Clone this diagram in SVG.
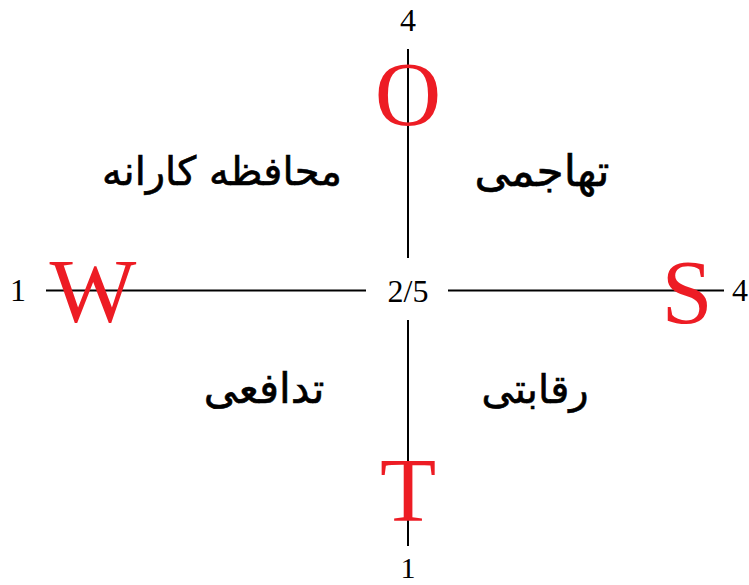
<svg xmlns="http://www.w3.org/2000/svg" width="749" height="585" viewBox="0 0 749 585">
<style>
.ax{stroke:#000;stroke-width:2;fill:none}
.num{font-family:"Liberation Serif",serif;font-size:32px;fill:#000;text-anchor:middle}
.big{font-family:"Liberation Serif",serif;font-size:92px;fill:#ed1c24;text-anchor:middle}
.fa{font-family:"DejaVu Sans",sans-serif;font-size:40px;fill:#000;stroke:#000;stroke-width:0.6;text-anchor:middle;direction:rtl}
</style>
<rect width="749" height="585" fill="#fff"/>
<g id="connectors">
<line class="ax" x1="408" y1="49" x2="408" y2="258"/>
<line class="ax" x1="408" y1="320" x2="408" y2="546"/>
<line class="ax" x1="46" y1="290.5" x2="366" y2="290.5"/>
<line class="ax" x1="448" y1="290.5" x2="724" y2="290.5"/>
</g>
<g id="axis-labels">
<text class="num" x="408" y="31">4</text>
<text class="num" x="408" y="578" style="font-size:30px">1</text>
<text class="num" x="18" y="301">1</text>
<text class="num" x="740" y="301">4</text>
<text class="num" x="408" y="302">2/5</text>
</g>
<g id="O"><text class="big" x="408" y="125">O</text></g>
<g id="W"><text class="big" x="93" y="322">W</text></g>
<g id="S"><text class="big" x="687" y="323">S</text></g>
<g id="T"><text class="big" x="408" y="521">T</text></g>
<g id="q1"><text class="fa" x="222" y="185">محافظه کارانه</text></g>
<g id="q2"><text class="fa" x="542" y="186" style="font-size:44px">تهاجمی</text></g>
<g id="q3"><text class="fa" x="264" y="403" style="font-size:42px">تدافعی</text></g>
<g id="q4"><text class="fa" x="535" y="403">رقابتی</text></g>
</svg>
